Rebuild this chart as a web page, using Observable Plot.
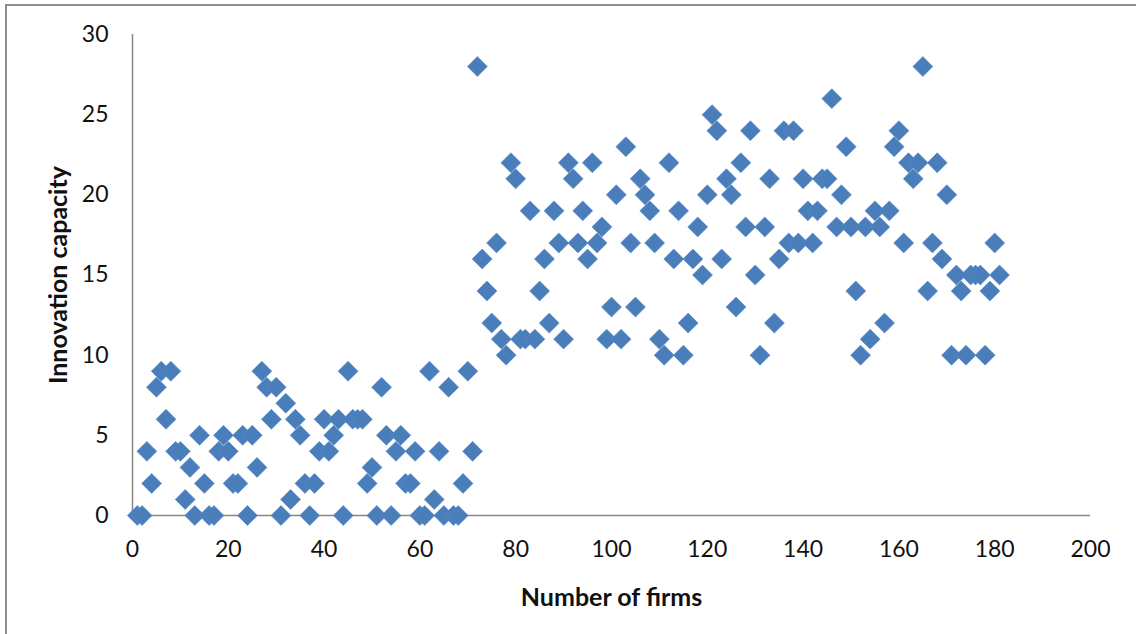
<!DOCTYPE html>
<html>
<head>
<meta charset="utf-8">
<script src="https://cdn.jsdelivr.net/npm/d3@7"></script>
<script src="https://cdn.jsdelivr.net/npm/@observablehq/plot@0.6"></script>
<style>
  html, body { margin: 0; padding: 0; background: #fff; overflow: hidden; }
  #wrap { position: relative; width: 1136px; height: 634px; overflow: hidden; }
  #frame { position: absolute; left: 5px; top: 4px; width: 2000px; height: 2000px;
           border-left: 2px solid #8e8e8e; border-top: 2px solid #8e8e8e; box-sizing: border-box; }
  #chart { position: absolute; left: 0; top: 0; }
  g[aria-label="x-axis label"], g[aria-label="y-axis label"] { font-weight: bold; font-size: 25px; }
</style>
</head>
<body>
<div id="wrap"><div id="frame"></div><div id="chart"></div></div>
<script>
const firms = [
  1,2,3,4,5,6,7,8,9,10,11,12,13,14,15,16,17,18,19,20,
  21,22,23,24,25,26,27,28,29,30,31,32,33,34,35,36,37,38,39,40,
  41,42,43,44,45,46,47,48,49,50,51,52,53,54,55,56,57,58,59,60,
  61,62,63,64,65,66,67,68,69,70,71,72,73,74,75,76,77,78,79,80,
  81,82,83,84,85,86,87,88,89,90,91,92,93,94,95,96,97,98,99,100,
  101,102,103,104,105,106,107,108,109,110,111,112,113,114,115,116,117,118,119,120,
  121,122,123,124,125,126,127,128,129,130,131,132,133,134,135,136,137,138,139,140,
  141,142,143,144,145,146,147,148,149,150,151,152,153,154,155,156,157,158,159,160,
  161,162,163,164,165,166,167,168,169,170,171,172,173,174,175,176,177,178,179,180,
  181
];
const capacity = [
  0,0,4,2,8,9,6,9,4,4, 1,3,0,5,2,0,0,4,5,4,
  2,2,5,0,5,3,9,8,6,8, 0,7,1,6,5,2,0,2,4,6,
  4,5,6,0,9,6,6,6,2,3, 0,8,5,0,4,5,2,2,4,0,
  0,9,1,4,0,8,0,0,2,9, 4,28,16,14,12,17,11,10,22,21,
  11,11,19,11,14,16,12,19,17,11, 22,21,17,19,16,22,17,18,11,13,
  20,11,23,17,13,21,20,19,17,11, 10,22,16,19,10,12,16,18,15,20,
  25,24,16,21,20,13,22,18,24,15, 10,18,21,12,16,24,17,24,17,21,
  19,17,19,21,21,26,18,20,23,18, 14,10,18,11,19,18,12,19,23,24,
  17,22,21,22,28,14,17,22,16,20, 10,15,14,10,15,15,15,10,14,17,
  15
];
const xTicks = [0,20,40,60,80,100,120,140,160,180,200];
const yTicks = [0,5,10,15,20,25,30];
const xLabel = "Number of firms";
const yLabel = "Innovation capacity";

const data = firms.map((f, i) => ({firm: f, capacity: capacity[i]}));

const chart = Plot.plot({
  width: 1136,
  height: 634,
  marginLeft: 132,
  marginRight: 46,
  marginTop: 34,
  marginBottom: 119,
  style: {fontFamily: "Lato, 'Open Sans', sans-serif", fontSize: "23px", color: "#111", background: "transparent", overflow: "visible"},
  x: {domain: [0, 200], ticks: xTicks, tickSize: 0, tickPadding: 25, label: xLabel, labelAnchor: "center", labelOffset: 90, labelArrow: "none"},
  y: {domain: [0, 30], ticks: yTicks, tickSize: 0, tickPadding: 24, label: yLabel, labelAnchor: "center", labelOffset: 83, labelArrow: "none"},
  marks: [
    Plot.ruleY([0], {stroke: "#868686", strokeWidth: 1.5}),
    Plot.ruleX([0], {stroke: "#868686", strokeWidth: 1.5}),
    Plot.dot(data, {x: "firm", y: "capacity", symbol: "diamond2", r: 9, fill: "#4a7ebb", stroke: "#5a8cc6", strokeWidth: 0.6})
  ]
});
document.getElementById("chart").appendChild(chart);
</script>
</body>
</html>
